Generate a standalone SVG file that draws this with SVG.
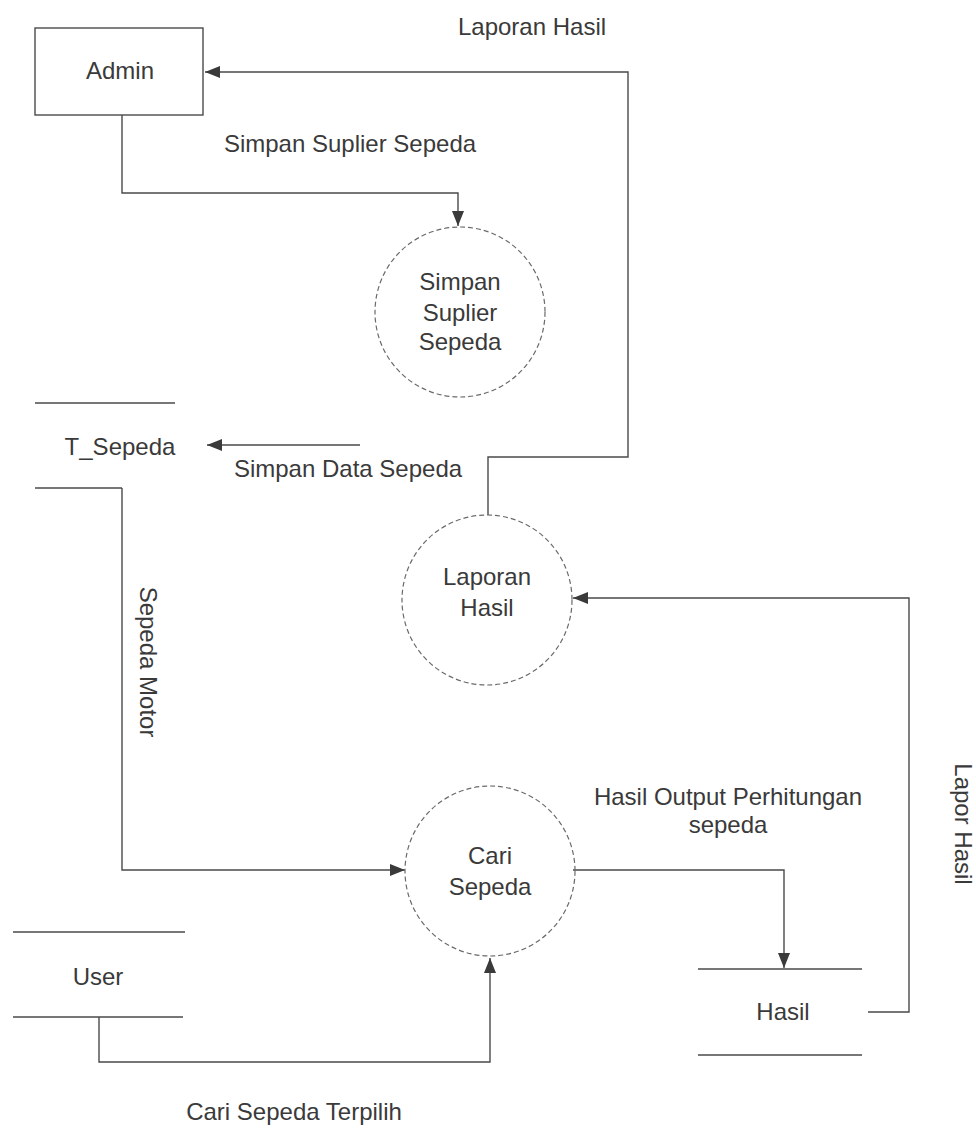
<svg xmlns="http://www.w3.org/2000/svg" width="976" height="1131" viewBox="0 0 976 1131">
<style>
text{font-family:"Liberation Sans",Arial,sans-serif;font-size:24px;fill:#3a3a3a;text-anchor:middle}
.ln{fill:none;stroke:#4a4a4a;stroke-width:1.4}
.proc{fill:none;stroke:#6a6a6a;stroke-width:1.2;stroke-dasharray:5 3}
.box{fill:none;stroke:#4a4a4a;stroke-width:1.4}
</style>
<defs>
<marker id="ah" markerUnits="userSpaceOnUse" markerWidth="16" markerHeight="12" refX="15" refY="6" orient="auto">
<path d="M0,0 L15,6 L0,12 Z" fill="#3a3a3a"/>
</marker>
</defs>
<rect width="976" height="1131" fill="#fff"/>
<g id="connectors">
<path class="ln" d="M122,115 V193 H458 V226" marker-end="url(#ah)"/>
<path class="ln" d="M488,515 V457 H628 V72 H205" marker-end="url(#ah)"/>
<path class="ln" d="M360,445 H207" marker-end="url(#ah)"/>
<path class="ln" d="M122,488 V870 H405" marker-end="url(#ah)"/>
<path class="ln" d="M99,1017 V1062 H490 V958" marker-end="url(#ah)"/>
<path class="ln" d="M573,870 H784 V968" marker-end="url(#ah)"/>
<path class="ln" d="M868,1012 H909 V598 H573" marker-end="url(#ah)"/>
<text x="532" y="35">Laporan Hasil</text>
<text x="350" y="152">Simpan Suplier Sepeda</text>
<text x="348" y="477">Simpan Data Sepeda</text>
<text transform="translate(148,662) rotate(90)" y="8">Sepeda Motor</text>
<text x="728" y="805">Hasil Output Perhitungan</text>
<text x="728" y="833">sepeda</text>
<text transform="translate(963,824) rotate(90)" y="8">Lapor Hasil</text>
<text x="294" y="1120">Cari Sepeda Terpilih</text>
</g>
<g id="admin">
<rect class="box" x="35" y="28" width="168" height="87"/>
<text x="120" y="79">Admin</text>
</g>
<g id="simpan-suplier">
<circle class="proc" cx="460" cy="312" r="85"/>
<text x="460" y="290">Simpan</text>
<text x="460" y="321">Suplier</text>
<text x="460" y="350">Sepeda</text>
</g>
<g id="t-sepeda">
<line class="ln" x1="35" y1="403" x2="175" y2="403"/>
<line class="ln" x1="35" y1="488" x2="122" y2="488"/>
<text x="120" y="455">T_Sepeda</text>
</g>
<g id="laporan-hasil">
<circle class="proc" cx="487" cy="600" r="85"/>
<text x="487" y="585">Laporan</text>
<text x="487" y="616">Hasil</text>
</g>
<g id="cari-sepeda">
<circle class="proc" cx="490" cy="871" r="85"/>
<text x="490" y="864">Cari</text>
<text x="490" y="895">Sepeda</text>
</g>
<g id="user">
<line class="ln" x1="13" y1="932" x2="185" y2="932"/>
<line class="ln" x1="13" y1="1017" x2="183" y2="1017"/>
<text x="98" y="985">User</text>
</g>
<g id="hasil">
<line class="ln" x1="698" y1="969" x2="862" y2="969"/>
<line class="ln" x1="698" y1="1055" x2="862" y2="1055"/>
<text x="783" y="1020">Hasil</text>
</g>
</svg>
